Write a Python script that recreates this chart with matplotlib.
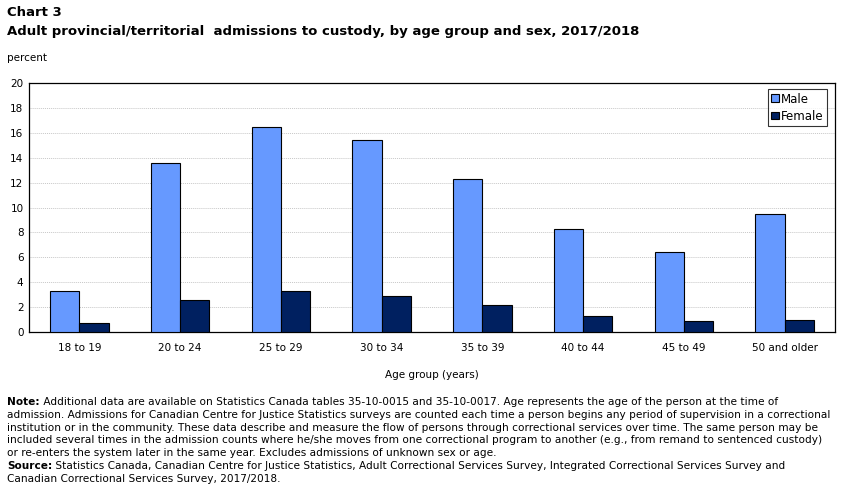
import matplotlib
matplotlib.use("Agg")
import matplotlib.pyplot as plt
import numpy as np

categories = ["18 to 19", "20 to 24", "25 to 29", "30 to 34", "35 to 39", "40 to 44", "45 to 49", "50 and older"]
male = [3.3, 13.6, 16.5, 15.4, 12.3, 8.3, 6.4, 9.5]
female = [0.7, 2.6, 3.3, 2.9, 2.2, 1.3, 0.9, 1.0]
yticks = [0, 2, 4, 6, 8, 10, 12, 14, 16, 18, 20]

MALE_C = "#6699FF"
FEMALE_C = "#002060"

plt.rcParams['font.family'] = ['DejaVu Sans']

fig = plt.figure(figsize=(8.51, 4.92), dpi=100)
W, H = 851, 492
ax = fig.add_axes([29 / W, 1 - 332 / H, (835 - 29) / W, (332 - 83) / H])

x = np.arange(len(categories))
bw = 0.29
ax.bar(x - bw / 2, male, bw, color=MALE_C, edgecolor="black", linewidth=0.8, label="Male", zorder=3)
ax.bar(x + bw / 2, female, bw, color=FEMALE_C, edgecolor="black", linewidth=0.8, label="Female", zorder=3)

ax.set_xlim(-0.5, len(categories) - 0.5)
ax.set_ylim(0, 20)
ax.set_yticks(yticks)
ax.set_xticks(x)
ax.set_xticklabels(categories)
ax.tick_params(axis="both", length=0, labelsize=7.5, colors="black")
ax.tick_params(axis="x", pad=8)
ax.tick_params(axis="y", pad=4)
ax.grid(axis="y", color="#c8c8c8", linewidth=0.7, linestyle=(0, (1, 1)), zorder=0)
for s in ax.spines.values():
    s.set_linewidth(0.9)
    s.set_color("black")
ax.set_xlabel("Age group (years)", fontsize=7.5, labelpad=12)

leg = ax.legend(loc="upper right", bbox_to_anchor=(827 / W, 1 - 89 / H), bbox_transform=fig.transFigure,
                fontsize=8.5, frameon=True, fancybox=False, edgecolor="black",
                handlelength=0.65, handleheight=0.65, handletextpad=0.15, borderpad=0.3,
                labelspacing=0.35, borderaxespad=0)
leg.get_frame().set_linewidth(0.8)

fig.text(7 / W, 1 - 12 / H, "Chart 3", fontsize=9.5, fontweight="bold", va="center", ha="left")
fig.text(7 / W, 1 - 31 / H, "Adult provincial/territorial  admissions to custody, by age group and sex, 2017/2018",
         fontsize=9.5, fontweight="bold", va="center", ha="left")
fig.text(7 / W, 1 - 58 / H, "percent", fontsize=7.5, va="center", ha="left")

note_font = dict(fontsize=7.55, family=["Liberation Sans Narrow", "DejaVu Sans"])
lines = [
    ("Note:", " Additional data are available on Statistics Canada tables 35-10-0015 and 35-10-0017. Age represents the age of the person at the time of"),
    (None, "admission. Admissions for Canadian Centre for Justice Statistics surveys are counted each time a person begins any period of supervision in a correctional"),
    (None, "institution or in the community. These data describe and measure the flow of persons through correctional services over time. The same person may be"),
    (None, "included several times in the admission counts where he/she moves from one correctional program to another (e.g., from remand to sentenced custody)"),
    (None, "or re-enters the system later in the same year. Excludes admissions of unknown sex or age."),
    ("Source:", " Statistics Canada, Canadian Centre for Justice Statistics, Adult Correctional Services Survey, Integrated Correctional Services Survey and"),
    (None, "Canadian Correctional Services Survey, 2017/2018."),
]
y0 = 402
dy = 12.8
fig.canvas.draw()
renderer = fig.canvas.get_renderer()
for i, (bold, txt) in enumerate(lines):
    yy = 1 - (y0 + i * dy) / H
    xx = 7 / W
    if bold:
        t = fig.text(xx, yy, bold, fontweight="bold", va="center", ha="left", **note_font)
        bb = t.get_window_extent(renderer=renderer)
        xx = bb.x1 / W
    fig.text(xx, yy, txt, va="center", ha="left", **note_font)

fig.savefig("out.png", dpi=100)
